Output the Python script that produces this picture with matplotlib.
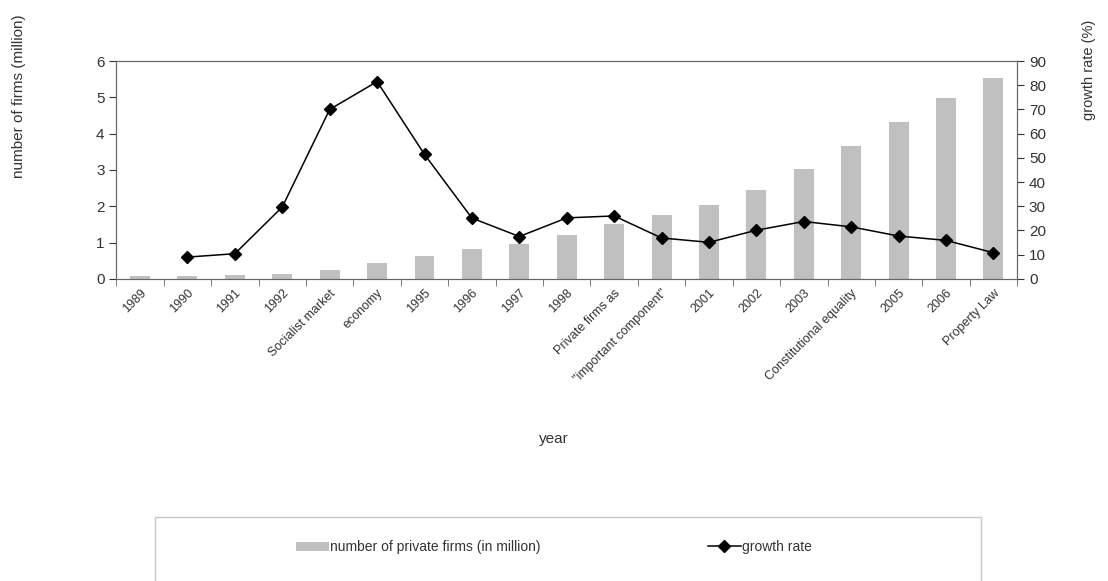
import numpy as np
import matplotlib
matplotlib.use("Agg")
import matplotlib.pyplot as plt
from matplotlib.patches import Rectangle, Patch
from matplotlib.lines import Line2D

plt.rcParams['font.family'] = ['Liberation Sans', 'DejaVu Sans']

categories = ['1989', '1990', '1991', '1992', 'Socialist market', 'economy',
              '1995', '1996', '1997', '1998', 'Private firms as',
              '"important component"', '2001', '2002', '2003',
              'Constitutional equality', '2005', '2006', 'Property Law']
firms = [0.07, 0.08, 0.11, 0.14, 0.24, 0.44, 0.64, 0.82, 0.97, 1.21,
         1.51, 1.76, 2.03, 2.44, 3.03, 3.66, 4.32, 4.99, 5.53]
growth = [np.nan, 9.0, 10.4, 29.7, 70.0, 81.5, 51.4, 25.1, 17.5, 25.2,
          26.0, 16.9, 15.1, 20.1, 23.7, 21.5, 17.7, 15.9, 10.8]

txt = '#333333'
spine = '#666666'

fig = plt.figure(figsize=(11.08, 5.81), dpi=100)
ax = fig.add_axes([0.105, 0.52, 0.813, 0.375])
x = np.arange(len(categories))

ax.bar(x, firms, width=0.42, color='#c0c0c0', zorder=1)
ax.set_xlim(-0.5, len(categories) - 0.5)
ax.set_ylim(0, 6)
ax.set_yticks(range(0, 7))
ax.set_xticks(x)
ax.set_xticklabels(categories, rotation=45, ha='right', rotation_mode='anchor',
                   fontsize=9, color=txt)
ax.set_xticks(np.arange(-0.5, len(categories)), minor=True)
ax.tick_params(axis='x', which='major', length=0, pad=6)
ax.tick_params(axis='x', which='minor', length=5, color=spine)
ax.tick_params(axis='y', labelsize=11, colors=txt, length=5)
for s in ax.spines.values():
    s.set_color(spine)

ax2 = ax.twinx()
ax2.plot(x, growth, color='black', lw=1.1, marker='D', markersize=6, zorder=3)
ax2.set_ylim(0, 90)
ax2.set_yticks(range(0, 91, 10))
ax2.tick_params(axis='y', labelsize=11, colors=txt, length=5)
for s in ax2.spines.values():
    s.set_color(spine)

fig.text(0.5, 0.245, 'year', ha='center', va='center', fontsize=11, color=txt)
fig.text(0.017, 0.835, 'number of firms (million)', rotation=90, ha='center',
         va='center', fontsize=11, color=txt)
fig.text(0.983, 0.88, 'growth rate (%)', rotation=90, ha='center',
         va='center', fontsize=10.5, color=txt)

# legend box
fig.patches.append(Rectangle((0.14, -0.02), 0.745, 0.13, transform=fig.transFigure,
                             fill=False, edgecolor='#c8c8c8', lw=1))
handles = [Patch(facecolor='#c0c0c0', edgecolor='none'),
           Line2D([0], [0], color='black', lw=1.1, marker='D', markersize=6)]
labels = ['number of private firms (in million)', 'growth rate']
fig.legend(handles, labels, loc='center', bbox_to_anchor=(0.50, 0.058), ncol=2,
           frameon=False, fontsize=10, columnspacing=12, handlelength=2.4,
           handletextpad=0.1, labelcolor=txt)

fig.savefig('out.png', dpi=100)
